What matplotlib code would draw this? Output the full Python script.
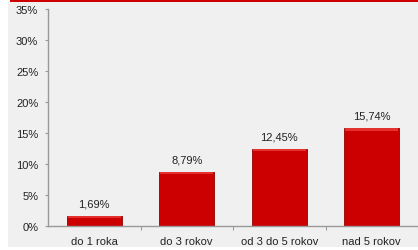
import matplotlib
matplotlib.use("Agg")
import matplotlib.pyplot as plt
from matplotlib.patches import Rectangle

categories = ["do 1 roka", "do 3 rokov", "od 3 do 5 rokov", "nad 5 rokov"]
values = [1.69, 8.79, 12.45, 15.74]
labels = ["1,69%", "8,79%", "12,45%", "15,74%"]
yticks = [0, 5, 10, 15, 20, 25, 30, 35]

W, H = 418, 251
plt.rcParams["font.family"] = ["Liberation Sans", "DejaVu Sans"]
fig = plt.figure(figsize=(W / 100, H / 100), dpi=100)
fig.patch.set_facecolor("white")

# panel background and red banner strip
fig.add_artist(Rectangle((8 / W, 1 - 248 / H), 1 - 8 / W, (248 - 3) / H,
                         transform=fig.transFigure, facecolor="#f0f0f0",
                         edgecolor="none", zorder=-10))
fig.add_artist(Rectangle((10 / W, 1 - 3 / H), 1 - 10 / W, 3 / H,
                         transform=fig.transFigure, facecolor="#cc0000",
                         edgecolor="none", zorder=10))

ax = fig.add_axes([48 / W, 1 - 227 / H, 1 - 48 / W, (227 - 10) / H], zorder=1)
ax.set_facecolor("none")

x = list(range(len(categories)))
ax.bar(x, values, width=0.59, color="#cc0000", edgecolor="#8f0000", linewidth=0.6, zorder=2)
# light highlight strip at top of each bar
hl = 0.35
ax.bar(x, [hl] * len(values), bottom=[v - hl for v in values], width=0.57,
       color="#e53030", edgecolor="none", zorder=3)

for xi, v, lab in zip(x, values, labels):
    ax.text(xi, v + 1.2, lab, ha="center", va="bottom", fontsize=8, color="#222222")

ax.set_ylim(0, 35)
ax.set_xlim(-0.5, 3.5)
ax.set_yticks(yticks)
ax.set_yticklabels([f"{t}%" for t in yticks], fontsize=8, color="#222222")
ax.set_xticks(x)
ax.set_xticklabels(categories, fontsize=8, color="#222222")
ax.set_xticks([0.5, 1.5, 2.5, 3.5], minor=True)
ax.tick_params(axis="x", which="major", length=0, pad=7.5)
ax.tick_params(axis="x", which="minor", length=3, color="#999999", width=0.8)
ax.tick_params(axis="y", length=2.5, color="#999999", width=0.8, pad=4.5)

for s in ["top", "right"]:
    ax.spines[s].set_visible(False)
for s in ["left", "bottom"]:
    ax.spines[s].set_color("#999999")
    ax.spines[s].set_linewidth(1.0)

fig.savefig("out.png", dpi=100, facecolor=fig.get_facecolor())
